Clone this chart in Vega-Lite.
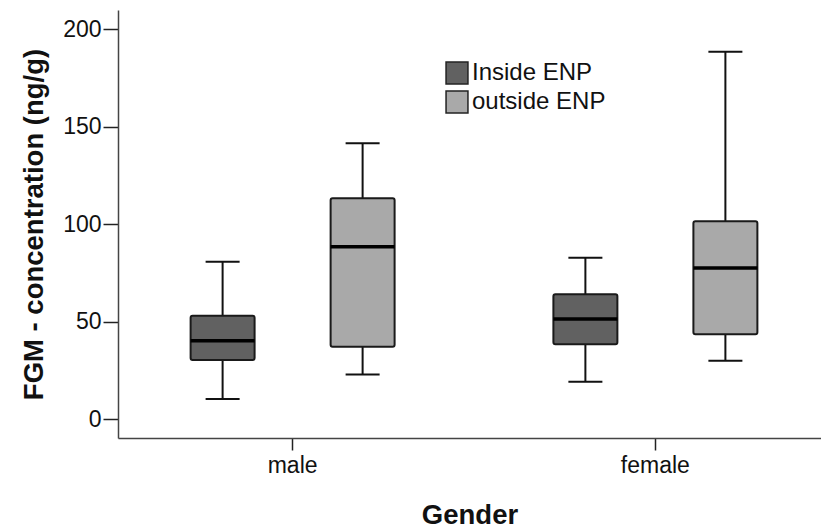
{
  "$schema": "https://vega.github.io/schema/vega-lite/v6.json",
  "width": 703,
  "height": 428,
  "autosize": {"type": "none"},
  "padding": {"left": 118, "top": 10, "right": 0, "bottom": 93},
  "background": "white",
  "config": {
    "view": {"stroke": null},
    "font": "Liberation Sans",
    "axis": {
      "domainColor": "#444",
      "domainWidth": 1.5,
      "tickColor": "#222",
      "tickWidth": 1.5,
      "grid": false,
      "labelFont": "Liberation Sans",
      "labelColor": "#111",
      "labelFontSize": 23,
      "titleFont": "Liberation Sans",
      "titleFontSize": 27.5,
      "titleFontWeight": "bold",
      "titleColor": "#111"
    }
  },
  "data": {
    "values": [
      {"gender": "male", "location": "Inside ENP", "lower": 10.3, "q1": 30.3, "median": 40.2, "q3": 53.0, "upper": 80.7},
      {"gender": "male", "location": "outside ENP", "lower": 22.9, "q1": 37.1, "median": 88.4, "q3": 113.3, "upper": 141.5},
      {"gender": "female", "location": "Inside ENP", "lower": 19.1, "q1": 38.3, "median": 51.3, "q3": 64.0, "upper": 82.8},
      {"gender": "female", "location": "outside ENP", "lower": 29.9, "q1": 43.5, "median": 77.5, "q3": 101.5, "upper": 188.5}
    ]
  },
  "encoding": {
    "x": {
      "field": "gender",
      "type": "nominal",
      "sort": ["male", "female"],
      "scale": {"paddingInner": 0.2, "paddingOuter": 0.0689, "align": 0.59},
      "axis": {"title": "Gender", "labelAngle": 0, "tickSize": 12, "labelPadding": 4, "titlePadding": 24}
    },
    "xOffset": {
      "field": "location",
      "type": "nominal",
      "sort": ["Inside ENP", "outside ENP"],
      "scale": {"paddingInner": 0.543, "paddingOuter": 0.308}
    }
  },
  "layer": [
    {
      "mark": {"type": "rule", "color": "#111", "strokeWidth": 2},
      "encoding": {
        "y": {
          "field": "lower",
          "type": "quantitative",
          "scale": {"domain": [-9.75, 209.9], "nice": false, "zero": false},
          "axis": {"title": "FGM - concentration (ng/g)", "values": [0, 50, 100, 150, 200], "tickSize": 15, "labelPadding": 2, "titlePadding": 14}
        },
        "y2": {"field": "upper"}
      }
    },
    {
      "mark": {"type": "bar", "stroke": "#1a1a1a", "strokeWidth": 2, "cornerRadius": 2},
      "encoding": {
        "y": {"field": "q1", "type": "quantitative"},
        "y2": {"field": "q3"},
        "color": {
          "field": "location",
          "type": "nominal",
          "scale": {"domain": ["Inside ENP", "outside ENP"], "range": ["#616161", "#a9a9a9"]},
          "legend": {
            "title": null,
            "orient": "none",
            "legendX": 327,
            "legendY": 51,
            "symbolType": "square",
            "symbolSize": 480,
            "symbolStrokeColor": "#222",
            "symbolStrokeWidth": 1.5,
            "symbolOpacity": 1,
            "labelFontSize": 24,
            "labelColor": "#111",
            "labelOffset": 3,
            "rowPadding": 1
          }
        }
      }
    },
    {
      "mark": {"type": "tick", "color": "#000", "size": 64, "thickness": 3.5, "opacity": 1},
      "encoding": {"y": {"field": "median", "type": "quantitative"}}
    },
    {
      "mark": {"type": "tick", "color": "#111", "size": 34, "thickness": 2, "opacity": 1},
      "encoding": {"y": {"field": "lower", "type": "quantitative"}}
    },
    {
      "mark": {"type": "tick", "color": "#111", "size": 34, "thickness": 2, "opacity": 1},
      "encoding": {"y": {"field": "upper", "type": "quantitative"}}
    }
  ]
}
